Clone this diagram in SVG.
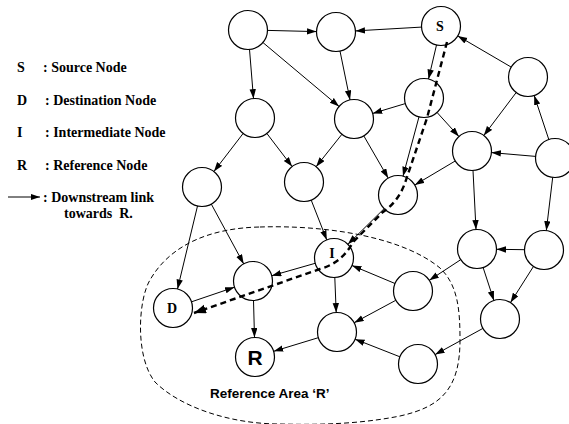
<svg xmlns="http://www.w3.org/2000/svg" width="569" height="424" viewBox="0 0 569 424">
<defs>
<marker id="ah" markerUnits="userSpaceOnUse" markerWidth="11" markerHeight="8" refX="9.5" refY="3.2" orient="auto"><path d="M0,0 L9.5,3.2 L0,6.4 Z" fill="#000"/></marker>
<marker id="ahb" markerUnits="userSpaceOnUse" markerWidth="14" markerHeight="10" refX="12" refY="4.5" orient="auto"><path d="M0,0 L12,4.5 L0,9 Z" fill="#000"/></marker>
<style>
.n{fill:#fff;stroke:#000;stroke-width:1.2}
.e{stroke:#000;stroke-width:1;fill:none;marker-end:url(#ah)}
.lg{font-family:"Liberation Serif","Times New Roman",serif;font-weight:bold;font-size:14px;fill:#000}
.nl{font-family:"Liberation Serif","Times New Roman",serif;font-weight:bold;font-size:14px;fill:#000;text-anchor:middle}
.sf{font-family:"Liberation Sans",Arial,sans-serif;font-weight:bold;fill:#000}
</style>
</defs>
<rect width="569" height="424" fill="#fff"/>

<g id="legend">
<text class="lg" x="17" y="72">S</text><text class="lg" x="43" y="72">: Source Node</text>
<text class="lg" x="17" y="105">D</text><text class="lg" x="45" y="105">: Destination Node</text>
<text class="lg" x="17" y="137">I</text><text class="lg" x="45" y="137">: Intermediate Node</text>
<text class="lg" x="17" y="170">R</text><text class="lg" x="45" y="170">: Reference Node</text>
<line class="e" x1="8" y1="197" x2="40" y2="197"/>
<text class="lg" x="43" y="202">: Downstream link</text>
<text class="lg" x="64" y="218" xml:space="preserve">towards  R.</text>
</g>

<g id="area">
<path d="M260,227 C320,225 400,235 440,268 C458,285 460,310 460,340 C460,390 440,407 400,416 C360,424 320,425 280,424 C230,424 180,407 155,382 C135,357 138,300 150,280 C170,245 210,228 260,227 Z" fill="none" stroke="#000" stroke-width="1" stroke-dasharray="5,3"/>
<text class="sf" x="210" y="398" font-size="13.5">Reference Area ‘R’</text>
</g>

<g id="n1"><circle class="n" cx="248" cy="30" r="19.5"/></g>
<g id="n2"><circle class="n" cx="336" cy="32" r="19.5"/></g>
<g id="nS"><circle class="n" cx="441" cy="26" r="19.5"/><text class="nl" x="440" y="31">S</text></g>
<g id="n4"><circle class="n" cx="528" cy="77" r="19.5"/></g>
<g id="n5"><circle class="n" cx="424" cy="98" r="19.5"/></g>
<g id="n6"><circle class="n" cx="354" cy="119" r="19.5"/></g>
<g id="n7"><circle class="n" cx="255" cy="118" r="19.5"/></g>
<g id="n8"><circle class="n" cx="472" cy="151" r="19.5"/></g>
<g id="n9"><circle class="n" cx="555" cy="158" r="19.5"/></g>
<g id="n10"><circle class="n" cx="202" cy="187" r="19.5"/></g>
<g id="n11"><circle class="n" cx="304" cy="182" r="19.5"/></g>
<g id="n12"><circle class="n" cx="398" cy="195" r="19.5"/></g>
<g id="nI"><circle class="n" cx="334" cy="258" r="19.5"/><text class="nl" x="332" y="258">I</text></g>
<g id="n14"><circle class="n" cx="253" cy="281" r="19.5"/></g>
<g id="nD"><circle class="n" cx="173" cy="308" r="19.5"/><text class="nl" x="172" y="313">D</text></g>
<g id="nR"><circle class="n" cx="255" cy="357" r="19.5"/><text class="sf" x="255" y="365" font-size="21" text-anchor="middle">R</text></g>
<g id="n17"><circle class="n" cx="337" cy="332" r="19.5"/></g>
<g id="n18"><circle class="n" cx="413" cy="291" r="19.5"/></g>
<g id="n19"><circle class="n" cx="418" cy="364" r="19.5"/></g>
<g id="n20"><circle class="n" cx="500" cy="319" r="19.5"/></g>
<g id="n21"><circle class="n" cx="477" cy="249" r="19.5"/></g>
<g id="n22"><circle class="n" cx="544" cy="250" r="19.5"/></g>

<g id="connectors">
<line class="e" x1="267.5" y1="30.4" x2="316.5" y2="31.6"/>
<line class="e" x1="249.5" y1="49.4" x2="253.5" y2="98.6"/>
<line class="e" x1="262.9" y1="42.5" x2="339.1" y2="106.5"/>
<line class="e" x1="340" y1="51.1" x2="350" y2="99.9"/>
<line class="e" x1="421.5" y1="27.1" x2="355.5" y2="30.9"/>
<line class="e" x1="436.5" y1="45" x2="428.5" y2="79"/>
<line class="e" x1="511.2" y1="67.1" x2="457.8" y2="35.9"/>
<line class="e" x1="405.3" y1="103.6" x2="372.7" y2="113.4"/>
<line class="e" x1="437.1" y1="112.5" x2="458.9" y2="136.5"/>
<line class="e" x1="419" y1="116.8" x2="403" y2="176.2"/>
<line class="e" x1="363.8" y1="135.9" x2="388.2" y2="178.1"/>
<line class="e" x1="516.2" y1="92.5" x2="483.8" y2="135.5"/>
<line class="e" x1="535.6" y1="156.4" x2="491.4" y2="152.6"/>
<line class="e" x1="548.8" y1="139.5" x2="534.2" y2="95.5"/>
<line class="e" x1="455.2" y1="161" x2="414.8" y2="185"/>
<line class="e" x1="473" y1="170.5" x2="476" y2="229.5"/>
<line class="e" x1="552.7" y1="177.4" x2="546.3" y2="230.6"/>
<line class="e" x1="524.5" y1="249.7" x2="496.5" y2="249.3"/>
<line class="e" x1="460.7" y1="259.7" x2="429.3" y2="280.3"/>
<line class="e" x1="483.1" y1="267.5" x2="493.9" y2="300.5"/>
<line class="e" x1="533.5" y1="266.4" x2="510.5" y2="302.6"/>
<line class="e" x1="482.9" y1="328.4" x2="435.1" y2="354.6"/>
<line class="e" x1="399.9" y1="356.8" x2="355.1" y2="339.2"/>
<line class="e" x1="395.8" y1="300.3" x2="354.2" y2="322.7"/>
<line class="e" x1="395" y1="283.5" x2="352" y2="265.5"/>
<line class="e" x1="315.2" y1="263.3" x2="271.8" y2="275.7"/>
<line class="e" x1="334.8" y1="277.5" x2="336.2" y2="312.5"/>
<line class="e" x1="311.2" y1="200.1" x2="326.8" y2="239.9"/>
<line class="e" x1="384.1" y1="208.7" x2="347.9" y2="244.3"/>
<line class="e" x1="341.9" y1="134.3" x2="316.1" y2="166.7"/>
<line class="e" x1="243.1" y1="133.5" x2="213.9" y2="171.5"/>
<line class="e" x1="266.9" y1="133.5" x2="292.1" y2="166.5"/>
<line class="e" x1="197.5" y1="206" x2="177.5" y2="289"/>
<line class="e" x1="211.3" y1="204.1" x2="243.7" y2="263.9"/>
<line class="e" x1="191.5" y1="301.8" x2="234.5" y2="287.2"/>
<line class="e" x1="253.5" y1="300.5" x2="254.5" y2="337.5"/>
<line class="e" x1="318.3" y1="337.7" x2="273.7" y2="351.3"/>
<path d="M447,42 L427,118 L405,183 Q398,202 383,212 L353,242 Q342,263 320,269 L194,313" fill="none" stroke="#000" stroke-width="2.4" stroke-dasharray="6,4" marker-end="url(#ahb)"/>
</g>
</svg>
